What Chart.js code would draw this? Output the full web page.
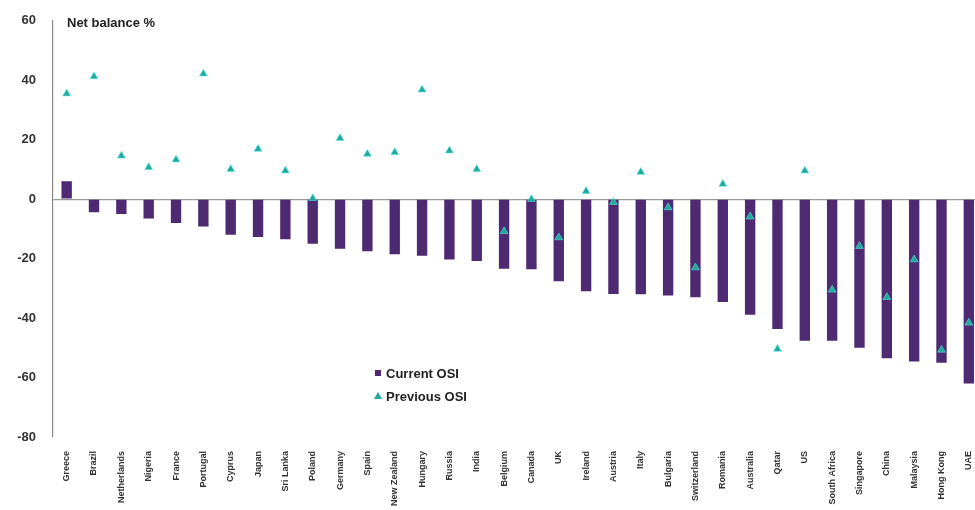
<!DOCTYPE html>
<html>
<head>
<meta charset="utf-8">
<script src="https://cdn.jsdelivr.net/npm/chart.js@4.4.1/dist/chart.umd.min.js"></script>
<style>
    html, body { margin: 0; padding: 0; background: #fff; overflow: hidden; }
    #wrap { position: relative; top: -4px; width: 988px; height: 514px; }
</style>
</head>
<body>
<div id="wrap"><canvas id="osiChart"></canvas></div>
<script>
// Data
const categories = ['Greece', 'Brazil', 'Netherlands', 'Nigeria', 'France', 'Portugal', 'Cyprus', 'Japan',
    'Sri Lanka', 'Poland', 'Germany', 'Spain', 'New Zealand', 'Hungary', 'Russia', 'India', 'Belgium',
    'Canada', 'UK', 'Ireland', 'Austria', 'Italy', 'Bulgaria', 'Switzerland', 'Romania', 'Australia',
    'Qatar', 'US', 'South Africa', 'Singapore', 'China', 'Malaysia', 'Hong Kong', 'UAE'];
const currentOSI = [6, -4.4, -5, -6.5, -8, -9.2, -12, -12.7, -13.5, -15, -16.7, -17.5, -18.5, -19, -20.3,
    -20.8, -23.4, -23.6, -27.6, -31, -31.9, -32, -32.4, -33, -34.6, -38.9, -43.7, -47.6, -47.6, -50,
    -53.5, -54.6, -55, -62];
const previousOSI = [35.5, 41.3, 14.6, 10.7, 13.3, 42.2, 10.1, 16.9, 9.6, 0.3, 20.5, 15.2, 15.8, 36.8, 16.3,
    10.1, -10.8, 0, -12.9, 2.7, -1, 9.1, -2.8, -23, 5.1, -5.9, -50.4, 9.6, -30.5, -15.8, -33, -20.3,
    -50.7, -41.6];
const yTicks = [60, 40, 20, 0, -20, -40, -60, -80];

const barColor = '#4E2A72';
const triColor = '#22A99B';

// Title and legend drawn inside the plot area (canvas sits 4px above the page top)
const overlay = {
    id: 'overlay',
    afterDraw(chart) {
        const c = chart.ctx;
        c.save();
        c.fillStyle = '#222';
        c.textBaseline = 'middle';
        c.font = 'bold 13px "Liberation Sans", Arial, sans-serif';
        c.fillText('Net balance %', 67, 27);

        // legend
        c.fillStyle = barColor;
        c.fillRect(375, 374, 6, 6);
        c.fillStyle = triColor;
        c.beginPath();
        c.moveTo(378, 396);
        c.lineTo(382, 403);
        c.lineTo(374, 403);
        c.closePath();
        c.fill();
        c.fillStyle = '#222';
        c.fillText('Current OSI', 386, 378);
        c.fillText('Previous OSI', 386, 401);
        c.restore();
    }
};

new Chart(document.getElementById('osiChart'), {
    data: {
        labels: categories,
        datasets: [{
            type: 'line',
            label: 'Previous OSI',
            data: previousOSI,
            showLine: false,
            pointStyle: 'triangle',
            pointRadius: 4.5,
            pointBackgroundColor: triColor,
            pointBorderColor: 'rgba(80, 230, 230, 0.6)',
            pointBorderWidth: 1,
            order: 0
        }, {
            type: 'bar',
            label: 'Current OSI',
            data: currentOSI,
            backgroundColor: barColor,
            categoryPercentage: 1,
            barPercentage: 0.38,
            order: 1
        }]
    },
    options: {
        responsive: true,
        maintainAspectRatio: false,
        animation: false,
        layout: { padding: { top: 16, right: 2, left: 0, bottom: 0 } },
        plugins: {
            legend: { display: false },
            tooltip: { enabled: false }
        },
        scales: {
            x: {
                grid: { display: false },
                border: { display: false },
                ticks: {
                    autoSkip: false,
                    maxRotation: 90,
                    minRotation: 90,
                    padding: 6,
                    color: '#333',
                    font: { family: '"Liberation Sans", Arial, sans-serif', size: 9, weight: 'bold' }
                },
                afterFit: function(scale) { scale.height = 73; }
            },
            y: {
                min: -80,
                max: 60,
                afterBuildTicks: function(scale) {
                    scale.ticks = yTicks.map(v => ({ value: v }));
                },
                grid: {
                    drawTicks: false,
                    color: ctx => ctx.tick && ctx.tick.value === 0 ? '#9a9a9a' : 'rgba(0,0,0,0)',
                    lineWidth: 1.2
                },
                border: { display: true, color: '#8a8a8a', width: 1.2 },
                ticks: {
                    padding: 17,
                    color: '#333',
                    font: { family: '"Liberation Sans", Arial, sans-serif', size: 13, weight: 'bold' }
                },
                afterFit: function(scale) { scale.width = 53; }
            }
        }
    },
    plugins: [overlay]
});
</script>
</body>
</html>
